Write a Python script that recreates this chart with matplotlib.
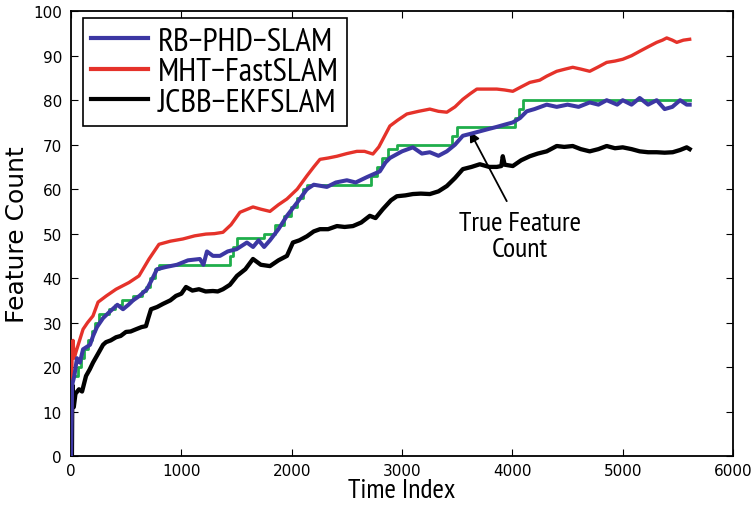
import matplotlib
matplotlib.use("Agg")
import matplotlib.pyplot as plt

# true feature count (step function)
true_x = [0, 5, 60, 90, 120, 150, 190, 220, 250, 340, 400, 460, 560, 640, 680, 720, 760, 800,
          1440, 1470, 1500, 1750, 1850, 1930, 1990, 2050, 2100, 2140, 2720, 2770, 2820, 2870, 2950,
          3450, 3500, 4020, 4060, 4100, 5607]
true_y = [0, 18, 20, 22, 24, 26, 28, 30, 32, 33, 34, 35, 36, 37, 38, 40, 42, 43,
          45, 47, 49, 50, 52, 54, 56, 58, 60, 61, 63, 65, 67, 69, 70,
          72, 74, 76, 78, 80, 80]

rb_x = [0, 10, 30, 54, 80, 109, 172, 200, 235, 290, 353, 420, 471, 520, 562, 620, 688, 740, 779,
        860, 960, 1060, 1168, 1200, 1232, 1286, 1350, 1420, 1500, 1594, 1650, 1700, 1750, 1803,
        1880, 1957, 2050, 2138, 2200, 2319, 2400, 2500, 2580, 2681, 2799, 2850, 2890, 3000, 3098,
        3180, 3252, 3330, 3406, 3480, 3551, 3630, 3705, 3780, 3859, 3930, 4004, 4070, 4130, 4200,
        4311, 4402, 4500, 4600, 4701, 4780, 4855, 4950, 5000, 5080, 5154, 5230, 5308, 5380, 5450,
        5520, 5580, 5607]
rb_y = [0, 16, 18, 22, 21, 24, 25, 27, 29, 31, 32.5, 34, 33, 34, 35, 36, 37.5, 40, 42,
        42.5, 43, 44, 44.3, 43, 46, 45, 45, 46, 46.5, 48, 47, 48.5, 47, 48.5,
        51, 54, 57, 60, 61, 60.5, 61.5, 62, 61.5, 62.7, 64, 66, 67, 68.5, 69.4,
        68, 68.3, 67.5, 68.5, 70, 72, 72.5, 73, 73.5, 74, 74.5, 75, 76, 77.5, 78,
        79, 78.5, 79, 78.5, 79.5, 79, 80, 79, 80, 79, 80.5, 79, 80, 78, 78.5,
        80, 79, 79]

mht_x = [0, 10, 18, 30, 45, 109, 150, 199, 245, 320, 408, 525, 616, 707, 797, 900, 1014, 1120,
         1223, 1300, 1377, 1450, 1531, 1649, 1720, 1803, 1880, 1957, 2050, 2138, 2200, 2256, 2330,
         2410, 2500, 2591, 2660, 2736, 2790, 2826, 2890, 2960, 3044, 3150, 3252, 3330, 3406, 3480,
         3551, 3620, 3678, 3760, 3859, 3930, 4004, 4080, 4158, 4248, 4311, 4402, 4480, 4547, 4620,
         4701, 4780, 4855, 4930, 5000, 5080, 5154, 5230, 5308, 5360, 5399, 5450, 5490, 5550, 5607]
mht_y = [0, 24, 26, 22, 23.4, 28.5, 30, 31.5, 34.6, 36, 37.5, 39, 40.5, 44.3, 47.6, 48.3, 48.8, 49.5,
         49.9, 50, 50.3, 52, 54.8, 56, 55.5, 55, 56.5, 57.8, 60, 63, 65, 66.7, 67,
         67.4, 68, 68.5, 68.5, 67.9, 69.5, 71.2, 74.2, 75.5, 76.9, 77.5, 78, 77.5, 77.3, 78.5,
         80.2, 81.5, 82.5, 82.5, 82.5, 82.3, 82, 83, 84, 84.5, 85.4, 86.5, 87, 87.4, 87,
         86.5, 87.5, 88.5, 88.8, 89.2, 90, 91, 92, 93, 93.5, 94, 93.5, 93, 93.5, 93.7]

jcbb_x = [0, 8, 12, 25, 40, 72, 100, 136, 170, 199, 254, 290, 317, 360, 408, 450, 498, 540, 589,
          640, 679, 700, 725, 780, 833, 900, 951, 1000, 1042, 1100, 1159, 1220, 1286, 1330, 1377,
          1440, 1504, 1580, 1649, 1720, 1803, 1880, 1957, 2011, 2070, 2138, 2200, 2256, 2330, 2410,
          2480, 2555, 2630, 2708, 2760, 2826, 2900, 2953, 3030, 3098, 3170, 3252, 3330, 3406, 3480,
          3551, 3630, 3705, 3790, 3859, 3900, 3913, 3930, 4004, 4080, 4158, 4230, 4311, 4402, 4470,
          4547, 4620, 4701, 4780, 4855, 4930, 5000, 5080, 5154, 5230, 5308, 5380, 5453, 5520, 5580,
          5607]
jcbb_y = [0, 0, 16, 11, 14, 15, 14.5, 18, 19.5, 21, 23.4, 25, 25.6, 26, 26.7, 27, 27.9, 28, 28.5,
          29, 29.2, 31, 33, 33.5, 34.2, 35, 36, 36.5, 38, 37.2, 37.5, 37, 37.1, 37, 37.5,
          38.5, 40.5, 42, 44.3, 43, 42.7, 44, 45, 48, 48.5, 49.4, 50.5, 51, 51, 51.7,
          51.5, 51.7, 52.5, 54, 53.5, 55.5, 57.5, 58.4, 58.6, 58.9, 59, 58.9, 59.5, 60.7, 62.5,
          64.5, 65, 65.6, 65, 65, 65.2, 67.4, 65.5, 65.2, 66.5, 67.4, 68, 68.5, 69.7, 69.5,
          69.7, 69, 68.5, 69, 69.7, 69.2, 69.4, 69, 68.5, 68.3, 68.3, 68.2, 68.3, 68.8, 69.4,
          69]

labels = ["RB\u2212PHD\u2212SLAM", "MHT\u2212FastSLAM", "JCBB\u2212EKFSLAM"]

# narrow humanist face, close to the original Myriad look
text_font = ["PT Sans Narrow", "Fira Sans Condensed", "Source Sans Pro", "Open Sans"]


def main():
    fig = plt.figure(figsize=(7.54, 5.06), dpi=100)
    ax = fig.add_axes([0.0942, 0.0968, 0.878, 0.879])

    ax.step(true_x, true_y, where="post", color="#1fae4b", lw=2.0, zorder=2)
    l3, = ax.plot(jcbb_x, jcbb_y, color="black", lw=3.1, zorder=3)
    l2, = ax.plot(mht_x, mht_y, color="#e5322a", lw=2.4, zorder=3)
    l1, = ax.plot(rb_x, rb_y, color="#3c37a3", lw=2.9, zorder=4)

    ax.set_xlim(0, 6000)
    ax.set_ylim(0, 100)
    ax.set_xticks(range(0, 6001, 1000))
    ax.set_yticks(range(0, 101, 10))
    ax.tick_params(direction="in", top=True, right=True, length=5, width=0.8, labelsize=11)
    ax.tick_params(axis="y", pad=6.5)
    ax.tick_params(axis="x", pad=5)
    for s in ax.spines.values():
        s.set_linewidth(1.3)

    ax.set_xlabel("Time Index", family=text_font, fontsize=20, labelpad=0)
    ax.set_ylabel("Feature Count", family="DejaVu Sans", fontsize=18, labelpad=3)

    leg = ax.legend([l1, l2, l3], labels, loc="upper left", bbox_to_anchor=(0.018, 0.984),
                    borderaxespad=0, prop={"family": text_font, "size": 24}, fancybox=False,
                    edgecolor="black", framealpha=1, handlelength=1.7, handletextpad=0.3,
                    borderpad=0.25, labelspacing=0.0)
    leg.get_frame().set_linewidth(1.2)
    for h in leg.legend_handles:
        h.set_linewidth(3)

    ax.annotate("", xy=(3614, 73), xytext=(3949, 57.3),
                arrowprops=dict(arrowstyle="-|>", color="black", lw=1.3, shrinkA=0, shrinkB=0,
                                mutation_scale=15))
    ax.text(4067, 49.4, "True Feature\nCount", ha="center", va="center", family=text_font,
            fontsize=20, linespacing=1.1)

    fig.savefig("out.png", dpi=100)


if __name__ == "__main__":
    main()
